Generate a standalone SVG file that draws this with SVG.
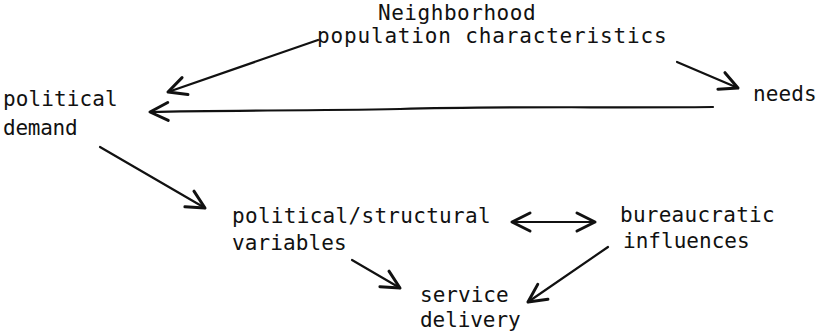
<svg xmlns="http://www.w3.org/2000/svg" width="822" height="333" viewBox="0 0 822 333">
  <style>
    text { font-family: "DejaVu Sans Mono", monospace; font-size: 21px; letter-spacing: 0.4px; fill: #111; }
    .edge { fill: none; stroke: #111; stroke-width: 2.2; stroke-linecap: round; }
  </style>
  <defs>
    <!-- open hand-drawn style chevron used for every arrow end -->
    <marker id="head" viewBox="0 0 24 24" refX="21" refY="12" markerWidth="24" markerHeight="24" markerUnits="userSpaceOnUse" orient="auto-start-reverse">
      <path d="M3,3 L21,12 L3,21" fill="none" stroke="#111" stroke-width="3" stroke-linecap="round" stroke-linejoin="round"/>
    </marker>
  </defs>
  <rect width="822" height="333" fill="#fff"/>

  <g id="neighborhood">
    <text x="378" y="20" textLength="158">Neighborhood</text>
    <text x="317" y="43" textLength="350">population characteristics</text>
  </g>
  <g id="political-demand">
    <text x="3" y="106" textLength="115">political</text>
    <text x="3" y="135" textLength="75">demand</text>
  </g>
  <g id="needs">
    <text x="753" y="101" textLength="64">needs</text>
  </g>
  <g id="political-structural">
    <text x="232" y="223" textLength="259">political/structural</text>
    <text x="232" y="250" textLength="115">variables</text>
  </g>
  <g id="bureaucratic">
    <text x="620" y="222" textLength="155">bureaucratic</text>
    <text x="623" y="248" textLength="127">influences</text>
  </g>
  <g id="service-delivery">
    <text x="420" y="302" textLength="89">service</text>
    <text x="420" y="327" textLength="101">delivery</text>
  </g>

  <g id="connectors">
    <path class="edge" d="M318,40 L168,92" marker-end="url(#head)"/>
    <path class="edge" d="M713,107 C600,108 500,106 400,109 C300,111 220,110 150,112" marker-end="url(#head)"/>
    <path class="edge" d="M677,62 L738,88" marker-end="url(#head)"/>
    <path class="edge" d="M100,147 L205,208" marker-end="url(#head)"/>
    <path class="edge" d="M352,260 L400,288" marker-end="url(#head)"/>
    <path class="edge" d="M512,222 L595,222" marker-start="url(#head)" marker-end="url(#head)"/>
    <path class="edge" d="M608,247 L528,302" marker-end="url(#head)"/>
  </g>
</svg>
